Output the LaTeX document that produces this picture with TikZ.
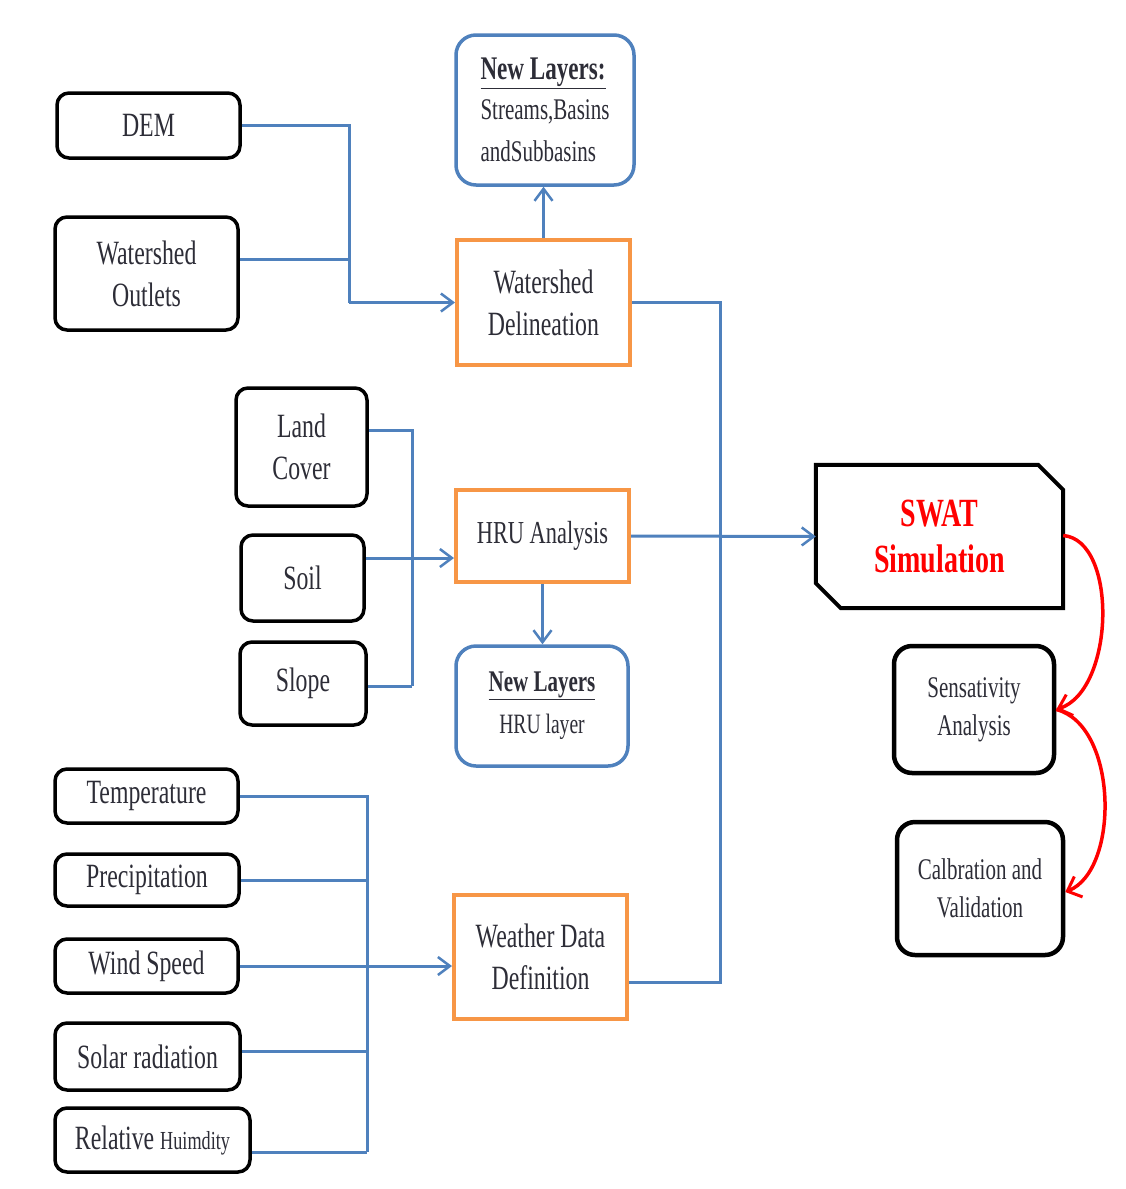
\documentclass[tikz,border=0pt]{standalone}
\usepackage{fontspec}
\setmainfont{Liberation Serif}[FakeStretch=0.7]
\usetikzlibrary{arrows.meta,calc}
\definecolor{bblue}{RGB}{79,129,189}
\definecolor{borange}{RGB}{247,150,70}
\definecolor{txt}{RGB}{45,45,55}
\begin{document}
\begin{tikzpicture}[x=1pt,y=-1pt,
  every node/.style={text=txt,font=\fontsize{34}{42}\selectfont,align=center,inner sep=0pt},
  blackbox/.style={draw=black,line width=3.5pt,rounded corners=12pt},
  bluebox/.style={draw=bblue,line width=3.5pt,rounded corners=20pt},
  orangebox/.style={draw=borange,line width=4pt},
  conn/.style={draw=bblue,line width=3pt},
  arr/.style={conn,-{Straight Barb[length=12pt,width=18pt,line width=2.5pt]}},
  redarr/.style={draw=red,line width=3.5pt,-{Straight Barb[length=12pt,width=22pt,line width=3pt]}}]
\useasboundingbox (0,0) rectangle (1126,1189);
\fill[white] (0,0) rectangle (1126,1189);

% input boxes
\node[blackbox,minimum width=183pt,minimum height=65pt] (dem) at (148.5,125.5) {DEM};
\node[blackbox,minimum width=183pt,minimum height=113pt] (out) at (146.5,273.5) {Watershed\\Outlets};
\node[blackbox,minimum width=131pt,minimum height=118pt] (lc) at (301.5,447) {Land\\Cover};
\node[blackbox,minimum width=123pt,minimum height=86pt] (soil) at (302.5,578) {Soil};
\node[blackbox,minimum width=126pt,minimum height=83pt] (slope) at (303,683.5) {Slope};
\node[blackbox,minimum width=183pt,minimum height=54pt] (temp) at (146.5,796) {Temperature};
\node[blackbox,minimum width=184pt,minimum height=52pt] (prec) at (147,880) {Precipitation};
\node[blackbox,minimum width=183pt,minimum height=54pt] (wind) at (146.5,966) {Wind Speed};
\node[blackbox,minimum width=185pt,minimum height=67pt] (solar) at (147.5,1056.5) {Solar radiation};
\node[blackbox,minimum width=195pt,minimum height=64pt] (rh) at (152.5,1140) {Relative {\fontsize{26}{30}\selectfont Huimdity}};

% process boxes
\node[orangebox,minimum width=173pt,minimum height=125pt] (wd) at (543.5,302.5) {Watershed\\Delineation};
\node[orangebox,minimum width=173pt,minimum height=92pt] (hru) at (542.5,536) {{\fontsize{32}{40}\selectfont HRU Analysis}};
\node[orangebox,minimum width=173pt,minimum height=124pt] (wdd) at (540.5,957) {Weather Data\\Definition};

% output layers
\node[bluebox,minimum width=178pt,minimum height=150pt,align=left] (nl1) at (545,110)
  {\fontsize{33}{38}\selectfont\underline{\textbf{New Layers:}}\\[-2pt]
   \fontsize{30}{38}\selectfont Streams,Basins\\ \fontsize{30}{38}\selectfont andSubbasins};
\node[bluebox,minimum width=172pt,minimum height=120pt] (nl2) at (542,706)
  {\fontsize{30}{36}\selectfont\underline{\textbf{New Layers}}\\ \fontsize{28}{36}\selectfont HRU layer};

% SWAT
\node[minimum width=247pt,minimum height=143pt,font=\fontsize{40}{46}\selectfont\bfseries,text=red] (swat) at (939.5,536.5) {SWAT\\Simulation};
\draw[line width=4pt,line join=miter]
  (swat.north west) -- ([xshift=-25pt]swat.north east) -- ([yshift=-25pt]swat.north east)
  -- (swat.south east) -- ([xshift=25pt]swat.south west) -- ([yshift=25pt]swat.south west) -- cycle;

\node[blackbox,line width=4.5pt,rounded corners=18pt,minimum width=160pt,minimum height=127pt,font=\fontsize{30}{38}\selectfont] (sens) at (974,709.5) {Sensativity\\Analysis};
\node[blackbox,line width=4.5pt,rounded corners=18pt,minimum width=166pt,minimum height=133pt,font=\fontsize{30}{38}\selectfont] (cal) at (980,888.5) {Calbration and\\Validation};

% connectors: watershed delineation
\coordinate (b1) at (349,302.5);
\draw[conn] (dem.east) -| (b1);
\draw[conn] ([yshift=14pt]out.east) -- ([yshift=14pt]out.east -| b1);
\draw[arr] (b1) -- (wd.west);
\draw[arr] (wd.north) -- (wd.north |- nl1.south);

% HRU
\coordinate (b2) at (412,686);
\draw[conn] ([yshift=17pt]lc.east) -| (b2);
\draw[conn] (slope.east |- b2) -- (b2);
\draw[arr] ([yshift=20pt]soil.east) -- ([yshift=20pt]soil.east -| hru.west);
\draw[arr] (hru.south) -- (hru.south |- nl2.north);

% weather
\coordinate (b3) at (367,1152);
\draw[conn] (temp.east) -| (b3);
\draw[conn] (prec.east) -- (prec.east -| b3);
\draw[conn] ([yshift=5pt]solar.east) -- ([yshift=5pt]solar.east -| b3);
\draw[conn] ([yshift=-12pt]rh.east) -- (b3);
\draw[arr] (wind.east) -- (wind.east -| wdd.west);

% to SWAT
\coordinate (b4) at (720,302.5);
\draw[conn] (wd.east) -- (b4) |- ([yshift=-25pt]wdd.east);
\draw[arr] (hru.east) -- (swat.west);

% red curves
\draw[redarr] ([yshift=1pt]swat.east) .. controls (1118,540) and (1115,690) .. (sens.east);
\draw[redarr] (sens.east) .. controls (1118,725) and (1120,870) .. ([yshift=-3.5pt]cal.east);
\end{tikzpicture}
\end{document}
